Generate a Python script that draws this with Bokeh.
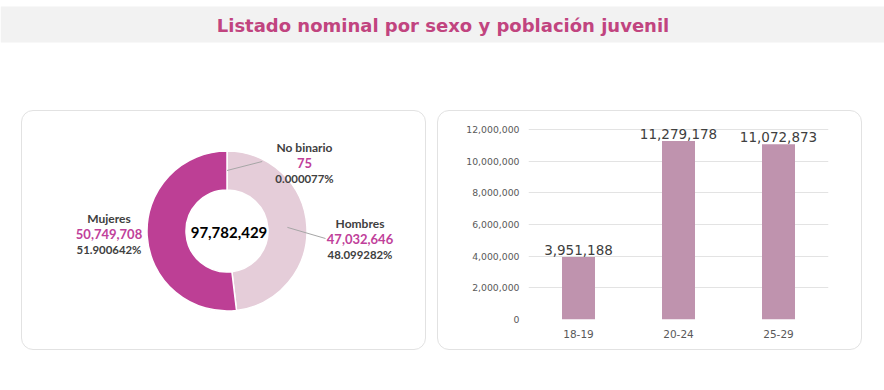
import math
from bokeh.plotting import figure
from bokeh.layouts import column, row, Spacer
from bokeh.models import Range1d, FactorRange, FixedTicker, NumeralTickFormatter, ColumnDataSource
from bokeh.core.properties import value
from bokeh.embed import file_html
from bokeh.resources import INLINE

# ---------------- data ----------------
TITLE = "Listado nominal por sexo y población juvenil"
sex_labels = ["No binario", "Hombres", "Mujeres"]
sex_values = [75, 47032646, 50749708]
age_groups = ["18-19", "20-24", "25-29"]
age_values = [3951188, 11279178, 11072873]
y_ticks = [0, 2000000, 4000000, 6000000, 8000000, 10000000, 12000000]

# ---------------- styles ----------------
PINK_TITLE = "#c1447f"
MAGENTA = "#bd3f95"
LIGHT = "#e5cdd9"
BAR = "#bf93ae"
DARK = "#404040"
BORDER = "#e2e2e2"
sex_colors = ["#d8b8c9", LIGHT, MAGENTA]
PANEL_CSS = {"border": f"1px solid {BORDER}", "border-radius": "12px"}


def clean(f):
    f.title.visible = False
    f.outline_line_color = None
    f.background_fill_color = None
    f.border_fill_color = None
    return f


# ---------------- title strip (page-pixel canvas) ----------------
PAGE_W = 884
pt = figure(width=PAGE_W, height=110, x_range=Range1d(0, PAGE_W), y_range=Range1d(-110, 0),
            output_backend="svg", toolbar_location=None, x_axis_type=None, y_axis_type=None,
            min_border=0, min_border_left=0, min_border_right=0,
            min_border_top=0, min_border_bottom=0)
clean(pt)
pt.grid.visible = False
pt.quad(left=0, right=PAGE_W, top=-6, bottom=-42, fill_color="#f2f2f2", line_color=None)
pt.text(x=[442.5], y=[-24.5], text=[TITLE], text_align="center", text_baseline="middle",
        text_font=value("DejaVu Sans"), text_font_style="bold", text_font_size="18px",
        text_color=PINK_TITLE)

# shared panel geometry
PANEL_H = 240
BORDER_TOP, BORDER_BOTTOM = 8, 32
FY0, FY1 = 119, 319          # page y of frame top/bottom

# ---------------- donut panel ----------------
DX0, DW = 22, 405
pd_ = figure(width=DW, height=PANEL_H, x_range=Range1d(DX0, DX0 + DW),
             y_range=Range1d(-FY1, -FY0), output_backend="svg", toolbar_location=None,
             x_axis_type=None, y_axis_type=None,
             min_border_left=0, min_border_right=0,
             min_border_top=BORDER_TOP, min_border_bottom=BORDER_BOTTOM)
clean(pd_)
pd_.grid.visible = False
pd_.styles = PANEL_CSS

CX, CY = 226.5, 230.5
R_IN, R_OUT = 41, 80
total = sum(sex_values)
fracs = [v / total for v in sex_values]
cum = [0.0]
for f in fracs:
    cum.append(cum[-1] + f)
starts = [math.pi / 2 - 2 * math.pi * c for c in cum[:-1]]
ends = [math.pi / 2 - 2 * math.pi * c for c in cum[1:]]
mids = [(a + b) / 2 for a, b in zip(starts, ends)]
src = ColumnDataSource(dict(start=starts, end=ends, color=sex_colors))
pd_.annular_wedge(x=CX, y=-CY, inner_radius=R_IN, outer_radius=R_OUT,
                  inner_radius_units="screen", outer_radius_units="screen",
                  start_angle="start", end_angle="end", direction="clock",
                  fill_color="color", line_color="white", line_width=1.5, source=src)

r_mid = (R_IN + R_OUT) / 2
lead_end = {"No binario": (261.7, 161), "Hombres": (325, 238)}
for lab, m in zip(sex_labels, mids):
    if lab in lead_end:
        ex, ey = lead_end[lab]
        pd_.segment(x0=[CX + r_mid * math.cos(m)], y0=[-CY + r_mid * math.sin(m)],
                    x1=[ex], y1=[-ey], line_color="#a6a6a6", line_width=1)

label_pos = {"No binario": (304, 147), "Hombres": (359.5, 223), "Mujeres": (108.5, 218)}
for lab, v, f in zip(sex_labels, sex_values, fracs):
    lx, ly = label_pos[lab]
    pd_.text(x=[lx], y=[-ly], text=[lab], text_align="center", text_baseline="middle",
             text_font=value("Lato"), text_font_style="bold", text_font_size="12px",
             text_color=DARK)
    pd_.text(x=[lx], y=[-(ly + 15.5)], text=[f"{v:,}"], text_align="center",
             text_baseline="middle", text_font=value("Lato"), text_font_style="bold",
             text_font_size="13px", text_color="#c0409a")
    pd_.text(x=[lx], y=[-(ly + 30.5)], text=[f"{f * 100:.6f}%"], text_align="center",
             text_baseline="middle", text_font=value("Lato"), text_font_style="bold",
             text_font_size="11.4px", text_color=DARK)

pd_.text(x=[CX + 2], y=[-(CY + 1)], text=[f"{total:,}"], text_align="center",
         text_baseline="middle", text_font=value("Lato"), text_font_style="bold",
         text_font_size="15px", text_color="#000000")

# ---------------- bar panel ----------------
pb = figure(width=425, height=PANEL_H, x_range=FactorRange(*age_groups),
            y_range=Range1d(0, 12e6 * 200 / 190), output_backend="svg", toolbar_location=None,
            min_border_left=90, min_border_right=35,
            min_border_top=BORDER_TOP, min_border_bottom=BORDER_BOTTOM)
clean(pb)
pb.styles = PANEL_CSS

pb.vbar(x=age_groups, top=age_values, width=0.33, fill_color=BAR, line_color=None)
pb.text(x=age_groups, y=age_values, text=[f"{v:,}" for v in age_values],
        text_align="center", text_baseline="bottom", y_offset=-2,
        text_font=value("DejaVu Sans"), text_font_size="13.5px", text_color=DARK)

pb.yaxis.ticker = FixedTicker(ticks=y_ticks)
pb.yaxis.formatter = NumeralTickFormatter(format="0,0")
for ax in (pb.xaxis, pb.yaxis):
    ax.axis_line_color = None
    ax.major_tick_line_color = None
    ax.minor_tick_line_color = None
    ax.major_tick_out = 0
    ax.major_tick_in = 0
    ax.major_label_text_font = "DejaVu Sans"
    ax.major_label_text_color = "#595959"
pb.yaxis.major_label_text_font_size = "9.3px"
pb.yaxis.major_label_standoff = 9
pb.xaxis.major_label_text_font_size = "10.5px"
pb.xaxis.major_label_standoff = 10
pb.xgrid.visible = False
pb.ygrid.grid_line_color = "#e3e3e3"
pb.ygrid.grid_line_width = 1

layout = column(pt, row(Spacer(width=21, height=10), pd_, Spacer(width=11, height=10), pb))
open("out.html", "w").write(file_html(layout, INLINE))
